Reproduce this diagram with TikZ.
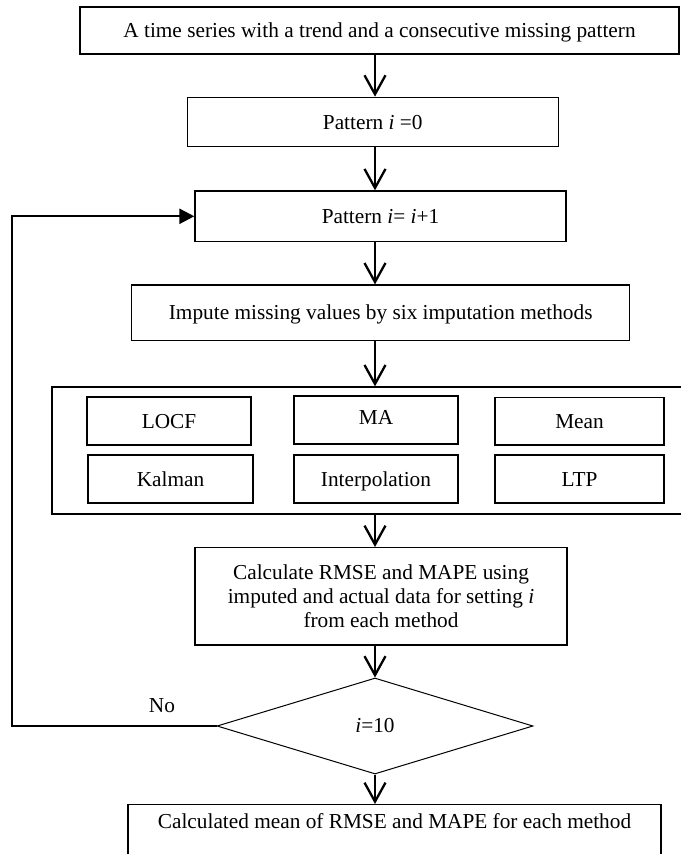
\documentclass[tikz,border=0pt]{standalone}
\usepackage{fontspec}
\setmainfont{Liberation Serif}
\usetikzlibrary{arrows.meta,shapes.geometric}
\begin{document}
\begin{tikzpicture}[x=1pt,y=-1pt,
  font=\fontsize{21.3}{24}\selectfont,
  box/.style={draw, line width=1.3pt, rectangle, inner sep=0pt, align=center},
  one/.style={text height=14pt, text depth=0pt},
  dec/.style={draw, line width=1pt, diamond, inner sep=0pt},
  arr/.style={line width=2.3pt, -{Straight Barb[length=19pt,width=21pt]}},
  looparr/.style={line width=2.3pt, -{Triangle[length=15pt,width=15pt]}}]
\useasboundingbox (0,0) rectangle (680,854);
\coordinate (ax) at (375,0);
\coordinate (lp) at (12,0);
% main boxes
\node[box, one, minimum width=599pt, minimum height=47pt] (b1) at (379.5,30.5) {A time series with a trend and a consecutive missing pattern};
\node[box, one, minimum width=371pt, minimum height=49.4pt] (b2) at (372.7,122) {Pattern \textit{i} =0};
\node[box, one, minimum width=371pt, minimum height=50.7pt] (b3) at (380.5,216.3) {Pattern \textit{i}= \textit{i}+1};
\node[box, one, minimum width=498pt, minimum height=55.7pt] (b4) at (380.7,312.9) {Impute missing values by six imputation methods};
% group box (right side runs past the page edge)
\node[box, minimum width=634pt, minimum height=127pt] (grp) at (369,450.5) {};
% methods
\node[box, one, minimum width=164pt, minimum height=48pt] (m1) at (169,421) {LOCF};
\node[box, text height=14pt, text depth=5pt, minimum width=164pt, minimum height=48pt] (m2) at (376,420) {MA};
\node[box, one, minimum width=169pt, minimum height=47.5pt] (m3) at (579.5,421.25) {Mean};
\node[box, one, minimum width=165pt, minimum height=48pt] (m4) at (170.5,479) {Kalman};
\node[box, one, minimum width=164pt, minimum height=48pt] (m5) at (376,479) {Interpolation};
\node[box, one, minimum width=169pt, minimum height=48pt] (m6) at (579.5,479) {LTP};
% calculate box
\node[box, minimum width=372pt, minimum height=97.3pt] (b6) at (381,596.3) {Calculate RMSE and MAPE using\\imputed and actual data for setting \textit{i}\\from each method};
% decision
\node[dec, minimum width=316pt, minimum height=96pt] (dia) at (375,726) {\textit{i}=10};
% final box (bottom runs past the page edge)
\node[box, anchor=north, minimum width=533pt, text height=24pt, text depth=42pt] (b7) at (394.5,804) {Calculated mean of RMSE and MAPE for each method};
% label
\node (no) at (162,706) {No};
% connectors
\draw[arr] (b1.south -| ax) -- (b2.north -| ax);
\draw[arr] (b2.south -| ax) -- (b3.north -| ax);
\draw[arr] (b3.south -| ax) -- (b4.north -| ax);
\draw[arr] (b4.south -| ax) -- (grp.north -| ax);
\draw[arr] (grp.south -| ax) -- (b6.north -| ax);
\draw[arr] (b6.south -| ax) -- (dia.north);
\draw[arr] (dia.south) -- (b7.north -| ax);
\draw[looparr] (dia.west) -- (dia.west -| lp) |- (b3.west);
\end{tikzpicture}
\end{document}
